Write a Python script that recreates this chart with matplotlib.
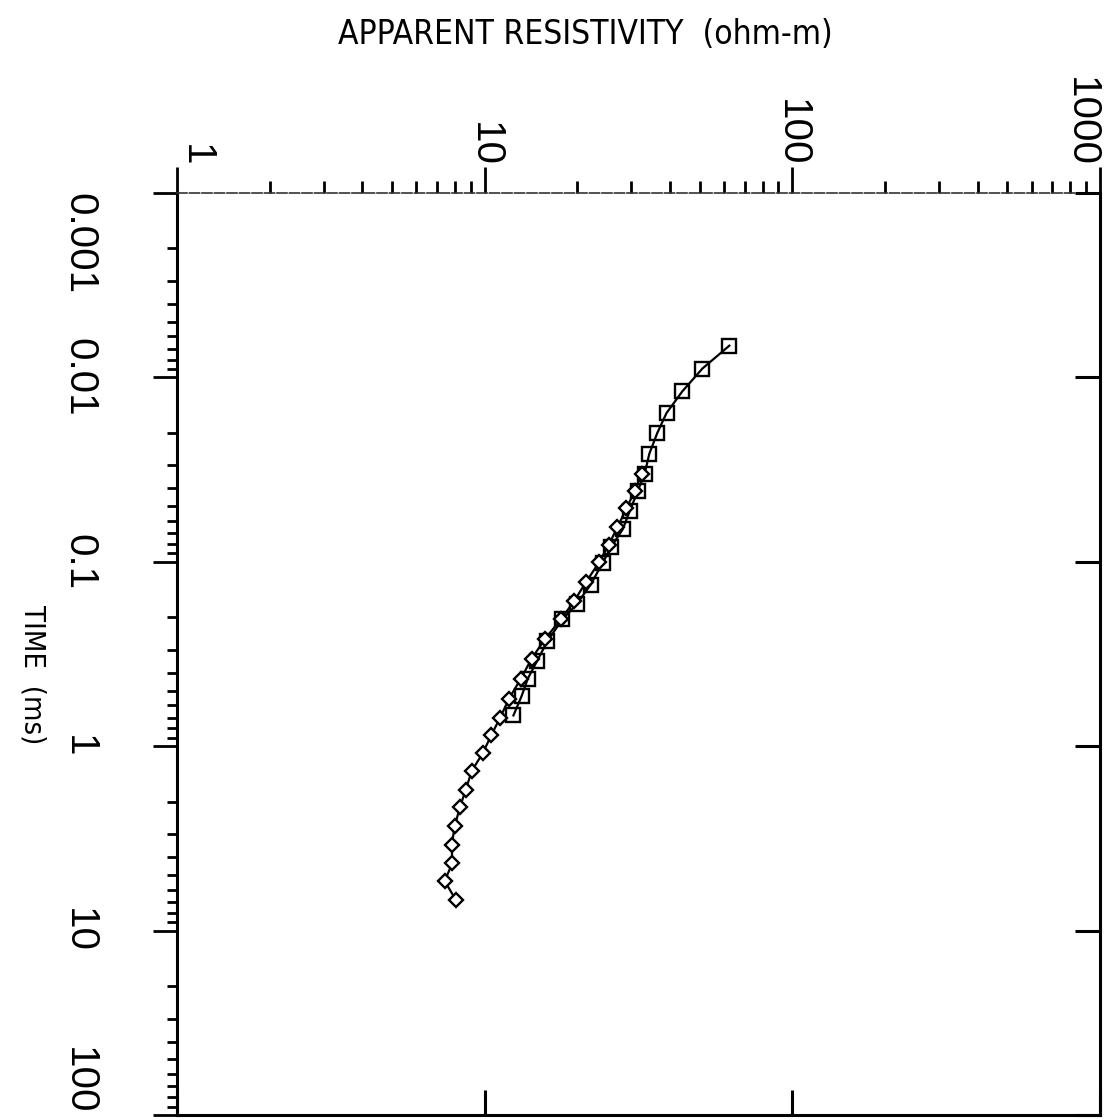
import numpy as np
import matplotlib
matplotlib.use('Agg')
from matplotlib import pyplot as plt
from matplotlib.ticker import LogLocator, NullFormatter, FixedLocator, FixedFormatter

# apparent resistivity (ohm-m) vs time (ms), two sounding curves
sq_time = [0.00673, 0.00896, 0.0119, 0.0156, 0.0200, 0.0259, 0.0333, 0.0415, 0.0532, 0.0666,
           0.0830, 0.101, 0.133, 0.170, 0.205, 0.269, 0.345, 0.431, 0.532, 0.681]
sq_rho = [62.4, 51.0, 43.9, 39.0, 36.4, 34.3, 33.1, 31.4, 29.6, 28.1,
          25.8, 24.2, 22.1, 19.9, 17.9, 16.0, 14.8, 13.8, 13.2, 12.4]

dm_time = [0.0333, 0.0415, 0.0513, 0.0649, 0.0811, 0.100, 0.128, 0.164, 0.205, 0.262,
           0.336, 0.431, 0.552, 0.706, 0.873, 1.09, 1.36, 1.72, 2.15, 2.72,
           3.45, 4.31, 5.38, 6.81]
dm_rho = [32.4, 30.7, 28.9, 27.0, 25.3, 23.6, 21.4, 19.5, 17.7, 15.7,
          14.2, 13.1, 12.0, 11.2, 10.5, 9.86, 9.08, 8.68, 8.30, 7.99,
          7.81, 7.85, 7.41, 8.05]

x_ticks = [1, 10, 100, 1000]
x_labels = ['1', '10', '100', '1000']
y_ticks = [0.001, 0.01, 0.1, 1, 10, 100]
y_labels = ['0.001', '0.01', '0.1', '1', '10', '100']

fig = plt.figure(figsize=(11.1, 11.2), dpi=100)
ax = fig.add_axes([0.1595, 0.0045, 0.8315, 0.8232])

ax.plot(sq_rho, sq_time, '-', color='black', lw=1.6, marker='s', ms=9.5,
        mfc='none', mec='black', mew=1.7)
ax.plot(dm_rho, dm_time, '-', color='black', lw=1.6, marker='D', ms=7.5,
        mfc='white', mec='black', mew=1.7)

ax.set_xscale('log')
ax.set_yscale('log')
ax.set_xlim(1, 1000)
ax.set_ylim(100, 0.001)

# inward decade ticks on bottom and right (twins made first, they reset ax tick sides)
axb = ax.twiny()
axr = ax.twinx()

axb.set_xscale('log')
axb.set_xlim(ax.get_xlim())
axb.xaxis.set_ticks_position('bottom')
axb.xaxis.set_major_locator(FixedLocator(x_ticks))
axb.xaxis.set_minor_locator(FixedLocator([]))
axb.tick_params(axis='x', direction='in', length=18, width=2.2,
                labelbottom=False, labeltop=False)
axb.tick_params(axis='y', left=False, right=False, labelleft=False, labelright=False)
for s in axb.spines.values():
    s.set_visible(False)

axr.set_yscale('log')
axr.set_ylim(ax.get_ylim())
axr.yaxis.set_ticks_position('right')
axr.yaxis.set_major_locator(FixedLocator(y_ticks))
axr.yaxis.set_minor_locator(FixedLocator([]))
axr.tick_params(axis='y', direction='in', length=18, width=2.2,
                labelright=False, labelleft=False)
axr.tick_params(axis='x', top=False, bottom=False, labeltop=False, labelbottom=False)
for s in axr.spines.values():
    s.set_visible(False)

tick_family = 'Liberation Sans'
tick_size = 29

# top axis: outward ticks, labels above
ax.xaxis.set_ticks_position('top')
ax.xaxis.set_label_position('top')
ax.xaxis.set_major_locator(FixedLocator(x_ticks))
ax.xaxis.set_major_formatter(FixedFormatter(x_labels))
ax.xaxis.set_minor_locator(LogLocator(base=10, subs=np.arange(2, 10)))
ax.xaxis.set_minor_formatter(NullFormatter())
ax.tick_params(axis='x', which='major', direction='out', length=19, width=2, pad=0,
               labeltop=True, labelbottom=False)
ax.tick_params(axis='x', which='minor', direction='out', length=9, width=2)
xl = ax.get_xticklabels()
for lab in xl:
    lab.set_rotation(-90)
    lab.set_family(tick_family)
    lab.set_size(tick_size)
    lab.set_va('bottom')
xl[0].set_ha('left')
xl[-1].set_ha('right')

# left axis: outward ticks, labels far left
ax.yaxis.set_ticks_position('left')
ax.yaxis.set_major_locator(FixedLocator(y_ticks))
ax.yaxis.set_major_formatter(FixedFormatter(y_labels))
ax.yaxis.set_minor_locator(LogLocator(base=10, subs=np.arange(2, 10)))
ax.yaxis.set_minor_formatter(NullFormatter())
ax.tick_params(axis='y', which='major', direction='out', length=17, width=2, pad=40,
               labelleft=True, labelright=False)
ax.tick_params(axis='y', which='minor', direction='out', length=7, width=2)
yl = ax.get_yticklabels()
for lab in yl:
    lab.set_rotation(-90)
    lab.set_family(tick_family)
    lab.set_size(tick_size)
    lab.set_va('center')
yl[0].set_va('top')
yl[-1].set_va('bottom')

ax.spines['top'].set_linewidth(1.2)
ax.spines['top'].set_color('#333333')
ax.spines['top'].set_linestyle((0, (6, 1.5)))
for s in ['left', 'right', 'bottom']:
    ax.spines[s].set_linewidth(2.2)
    ax.spines[s].set_color('black')

fig.text(0.527, 1 - 34 / 1120, 'APPARENT RESISTIVITY  (ohm-m)', ha='center', va='center',
         family='DejaVu Sans', fontstretch='condensed', size=24)
fig.text(0.029, 1 - 675 / 1120, 'TIME  (ms)', ha='center', va='center', rotation=-90,
         family='DejaVu Sans', fontstretch='condensed', size=21)

fig.savefig('out.png', dpi=100)
